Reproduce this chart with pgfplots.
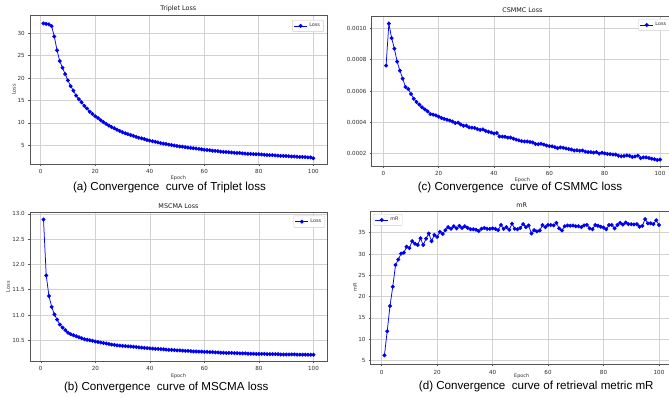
\documentclass[border=0pt]{standalone}
\usepackage{fontspec}
\setmainfont{Liberation Sans}
\newfontfamily\dejavu{DejaVu Sans}
\usepackage{pgfplots}
\pgfplotsset{compat=1.18}
\definecolor{mpblue}{RGB}{0,0,255}
\definecolor{framec}{RGB}{85,85,85}
\definecolor{gridc}{RGB}{210,210,210}
\definecolor{tickc}{RGB}{45,45,45}
\pgfplotsset{
  mpl/.style={
    scale only axis,
    xmin=-3.95, xmax=104.95,
    xtick={0,20,40,60,80,100},
    grid=major,
    major grid style={gridc, line width=0.6pt},
    axis line style={framec, line width=0.6pt},
    tick pos=left,
    tick align=outside,
    major tick length=2pt,
    every tick/.style={framec, line width=0.5pt},
    /pgf/number format/assume math mode=true,
    tick label style={font=\dejavu\fontsize{5.6}{6}\selectfont, text=tickc},
    xticklabel style={yshift=-0.3pt},
    yticklabel style={xshift=0.3pt},
    label style={font=\dejavu\fontsize{4.9}{5.5}\selectfont, text=tickc},
    title style={font=\dejavu\fontsize{6.4}{7}\selectfont, text=black!90, yshift=-6pt},
    xlabel=Epoch,
    legend style={font=\dejavu\fontsize{4.9}{5.5}\selectfont, text=tickc, draw=black!20, rounded corners=1pt,
      inner xsep=1.6pt, inner ysep=1.2pt, row sep=-1pt},
    legend cell align=left,
    legend image code/.code={\draw[mark repeat=2,mark phase=2,#1] plot coordinates {(0pt,0pt) (6.3pt,0pt) (12.6pt,0pt)};},
    every axis plot/.append style={mpblue, line width=0.75pt, mark=*, mark size=1.6pt, mark options={fill=mpblue, draw=mpblue}},
  }
}
\begin{document}
\begin{tikzpicture}[x=1pt,y=1pt]
% (a) Triplet Loss
\begin{axis}[mpl, at={(29.9pt,233pt)}, anchor=south west, width=296.9pt, height=149pt,
  ymin=0.83, ymax=34.09, ytick={5,10,15,20,25,30},
  title={Triplet Loss},
  ylabel=Loss, ylabel style={at={(axis description cs:-0.054,0.5)}, anchor=center, rotate=0},
  xlabel style={at={(axis description cs:0.5,-0.092)}, anchor=center},
  legend style={at={(1,1)}, anchor=north east, xshift=-3pt, yshift=-5pt}]
\addplot coordinates {(1,32.2)(2,32.1)(3,32.0)(4,31.6)(5,29.3)(6,26.2)(7,23.8)(8,22.3)(9,20.9)(10,19.5)
(11,18.2)(12,17.2)(13,16.1)(14,15.3)(15,14.6)(16,13.8)(17,13.2)(18,12.5)(19,12.0)(20,11.5)
(21,11.1)(22,10.6)(23,10.2)(24,9.8)(25,9.4)(26,9.1)(27,8.8)(28,8.5)(29,8.2)(30,7.9)
(31,7.7)(32,7.5)(33,7.3)(34,7.1)(35,6.9)(36,6.7)(37,6.55)(38,6.4)(39,6.2)(40,6.05)
(41,5.9)(42,5.8)(43,5.65)(44,5.5)(45,5.4)(46,5.3)(47,5.15)(48,5.05)(49,4.95)(50,4.85)
(51,4.75)(52,4.7)(53,4.6)(54,4.5)(55,4.45)(56,4.35)(57,4.3)(58,4.2)(59,4.1)(60,4.0)
(61,3.95)(62,3.9)(63,3.8)(64,3.75)(65,3.7)(66,3.6)(67,3.55)(68,3.5)(69,3.45)(70,3.4)
(71,3.35)(72,3.3)(73,3.3)(74,3.2)(75,3.15)(76,3.1)(77,3.1)(78,3.05)(79,3.0)(80,3.0)
(81,2.95)(82,2.9)(83,2.85)(84,2.8)(85,2.8)(86,2.75)(87,2.7)(88,2.65)(89,2.65)(90,2.6)
(91,2.55)(92,2.5)(93,2.5)(94,2.45)(95,2.4)(96,2.4)(97,2.35)(98,2.3)(99,2.3)(100,2.1)};
\addlegendentry{Loss}
\end{axis}
% (c) CSMMC Loss
\begin{axis}[mpl, at={(371.7pt,231pt)}, anchor=south west, width=301.3pt, height=150pt,
  xmin=-4.2, xmax=104.7,
  ymin=0.0001213, ymax=0.0010787, ytick={0.0002,0.0004,0.0006,0.0008,0.0010},
  scaled y ticks=false,
  yticklabel style={/pgf/number format/.cd, fixed, fixed zerofill, precision=4},
  title={CSMMC Loss},
  xlabel style={at={(axis description cs:0.5,-0.093)}, anchor=center},
  legend style={at={(1,1)}, anchor=north east, xshift=-3pt, yshift=-3pt}]
\addplot coordinates {(1,7.62e-4)(2,10.30e-4)(3,9.38e-4)(4,8.70e-4)(5,7.87e-4)(6,7.30e-4)(7,6.79e-4)(8,6.26e-4)(9,6.13e-4)(10,5.81e-4)
(11,5.50e-4)(12,5.30e-4)(13,5.13e-4)(14,4.96e-4)(15,4.83e-4)(16,4.70e-4)(17,4.53e-4)(18,4.49e-4)(19,4.45e-4)(20,4.36e-4)
(21,4.28e-4)(22,4.22e-4)(23,4.17e-4)(24,4.12e-4)(25,4.05e-4)(26,3.96e-4)(27,3.98e-4)(28,3.86e-4)(29,3.78e-4)(30,3.79e-4)
(31,3.68e-4)(32,3.66e-4)(33,3.64e-4)(34,3.57e-4)(35,3.52e-4)(36,3.55e-4)(37,3.45e-4)(38,3.40e-4)(39,3.35e-4)(40,3.28e-4)
(41,3.32e-4)(42,3.10e-4)(43,3.09e-4)(44,3.08e-4)(45,3.02e-4)(46,3.03e-4)(47,2.96e-4)(48,2.90e-4)(49,2.85e-4)(50,2.80e-4)
(51,2.78e-4)(52,2.78e-4)(53,2.74e-4)(54,2.72e-4)(55,2.62e-4)(56,2.60e-4)(57,2.63e-4)(58,2.58e-4)(59,2.52e-4)(60,2.48e-4)
(61,2.47e-4)(62,2.42e-4)(63,2.35e-4)(64,2.40e-4)(65,2.38e-4)(66,2.33e-4)(67,2.30e-4)(68,2.26e-4)(69,2.20e-4)(70,2.22e-4)
(71,2.18e-4)(72,2.20e-4)(73,2.13e-4)(74,2.10e-4)(75,2.10e-4)(76,2.07e-4)(77,2.10e-4)(78,2.00e-4)(79,2.06e-4)(80,2.02e-4)
(81,1.99e-4)(82,1.97e-4)(83,1.95e-4)(84,1.94e-4)(85,1.86e-4)(86,1.83e-4)(87,1.85e-4)(88,1.89e-4)(89,1.86e-4)(90,1.79e-4)
(91,1.82e-4)(92,1.87e-4)(93,1.71e-4)(94,1.76e-4)(95,1.76e-4)(96,1.72e-4)(97,1.68e-4)(98,1.64e-4)(99,1.60e-4)(100,1.62e-4)};
\addlegendentry{Loss}
\end{axis}
% (b) MSCMA Loss
\begin{axis}[mpl, at={(30pt,36pt)}, anchor=south west, width=297pt, height=148.7pt,
  ymin=10.09, ymax=13.03, ytick={10.5,11.0,11.5,12.0,12.5,13.0},
  yticklabel style={/pgf/number format/.cd, fixed, fixed zerofill, precision=1},
  title={MSCMA Loss},
  ylabel=Loss, ylabel style={at={(axis description cs:-0.074,0.5)}, anchor=center, rotate=0},
  xlabel style={at={(axis description cs:0.5,-0.099)}, anchor=center},
  legend style={at={(1,1)}, anchor=north east, xshift=-2pt, yshift=-3.4pt}]
\addplot coordinates {(1,12.89)(2,11.78)(3,11.375)(4,11.16)(5,11.01)(6,10.91)(7,10.81)(8,10.75)(9,10.70)(10,10.65)
(11,10.62)(12,10.60)(13,10.58)(14,10.56)(15,10.54)(16,10.52)(17,10.51)(18,10.50)(19,10.49)(20,10.475)
(21,10.465)(22,10.455)(23,10.445)(24,10.435)(25,10.425)(26,10.415)(27,10.41)(28,10.40)(29,10.395)(30,10.39)
(31,10.385)(32,10.38)(33,10.375)(34,10.37)(35,10.365)(36,10.36)(37,10.355)(38,10.35)(39,10.345)(40,10.34)
(41,10.335)(42,10.33)(43,10.33)(44,10.325)(45,10.32)(46,10.315)(47,10.31)(48,10.31)(49,10.305)(50,10.30)
(51,10.30)(52,10.295)(53,10.29)(54,10.29)(55,10.285)(56,10.28)(57,10.28)(58,10.275)(59,10.275)(60,10.27)
(61,10.27)(62,10.265)(63,10.265)(64,10.26)(65,10.26)(66,10.255)(67,10.255)(68,10.25)(69,10.25)(70,10.25)
(71,10.245)(72,10.245)(73,10.24)(74,10.24)(75,10.24)(76,10.235)(77,10.235)(78,10.235)(79,10.23)(80,10.23)
(81,10.23)(82,10.23)(83,10.225)(84,10.225)(85,10.225)(86,10.225)(87,10.225)(88,10.22)(89,10.22)(90,10.22)
(91,10.22)(92,10.22)(93,10.22)(94,10.215)(95,10.215)(96,10.215)(97,10.215)(98,10.215)(99,10.215)(100,10.215)};
\addlegendentry{Loss}
\end{axis}
% (d) mR
\begin{axis}[mpl, at={(370.7pt,32.7pt)}, anchor=south west, width=302pt, height=153.3pt,
  ymin=4.14, ymax=40.08, ytick={5,10,15,20,25,30,35},
  title={mR},
  ylabel=mR, ylabel style={at={(axis description cs:-0.052,0.5)}, anchor=center, rotate=0},
  xlabel style={at={(axis description cs:0.5,-0.075)}, anchor=center},
  legend style={at={(0,1)}, anchor=north west, xshift=2.6pt, yshift=-3pt}]
\addplot coordinates {(1,6.25)(2,11.9)(3,17.8)(4,22.3)(5,27.4)(6,28.7)(7,30.1)(8,30.3)(9,31.7)(10,31.4)
(11,33.0)(12,32.4)(13,32.1)(14,33.7)(15,32.1)(16,33.6)(17,34.8)(18,33.0)(19,34.5)(20,34.0)
(21,35.2)(22,34.7)(23,35.6)(24,36.3)(25,35.9)(26,36.5)(27,36.0)(28,36.6)(29,36.1)(30,36.5)
(31,36.1)(32,35.8)(33,35.8)(34,35.7)(35,35.4)(36,35.9)(37,36.1)(38,35.9)(39,35.9)(40,36.0)
(41,35.9)(42,35.6)(43,36.8)(44,35.9)(45,36.3)(46,35.7)(47,37.1)(48,35.9)(49,35.8)(50,36.1)
(51,37.0)(52,36.3)(53,36.7)(54,34.8)(55,35.6)(56,35.3)(57,35.5)(58,36.8)(59,36.3)(60,36.8)
(61,36.8)(62,36.7)(63,37.3)(64,36.0)(65,35.5)(66,36.5)(67,36.7)(68,36.6)(69,36.7)(70,36.5)
(71,36.5)(72,36.3)(73,36.7)(74,36.8)(75,36.0)(76,35.8)(77,36.8)(78,36.6)(79,36.4)(80,36.2)
(81,35.8)(82,36.8)(83,36.8)(84,36.0)(85,36.8)(86,37.3)(87,36.9)(88,37.4)(89,37.0)(90,37.0)
(91,36.9)(92,37.0)(93,36.4)(94,36.6)(95,38.2)(96,37.2)(97,37.2)(98,37.0)(99,37.9)(100,36.8)};
\addlegendentry{mR}
\end{axis}
% captions
\node[font=\fontsize{11.6}{13}\selectfont, anchor=center] at (169.5,209.3) {(a) Convergence~ curve of Triplet loss};
\node[font=\fontsize{11.6}{13}\selectfont, anchor=center] at (520,209.3) {(c) Convergence~ curve of CSMMC loss};
\node[font=\fontsize{11.6}{13}\selectfont, anchor=center] at (166.3,9.3) {(b) Convergence~ curve of MSCMA loss};
\node[font=\fontsize{11.6}{13}\selectfont, anchor=center] at (536.3,10.3) {(d) Convergence~ curve of retrieval metric mR};
\pgfresetboundingbox
\useasboundingbox (0,0) rectangle (669,397);
\end{tikzpicture}
\end{document}
